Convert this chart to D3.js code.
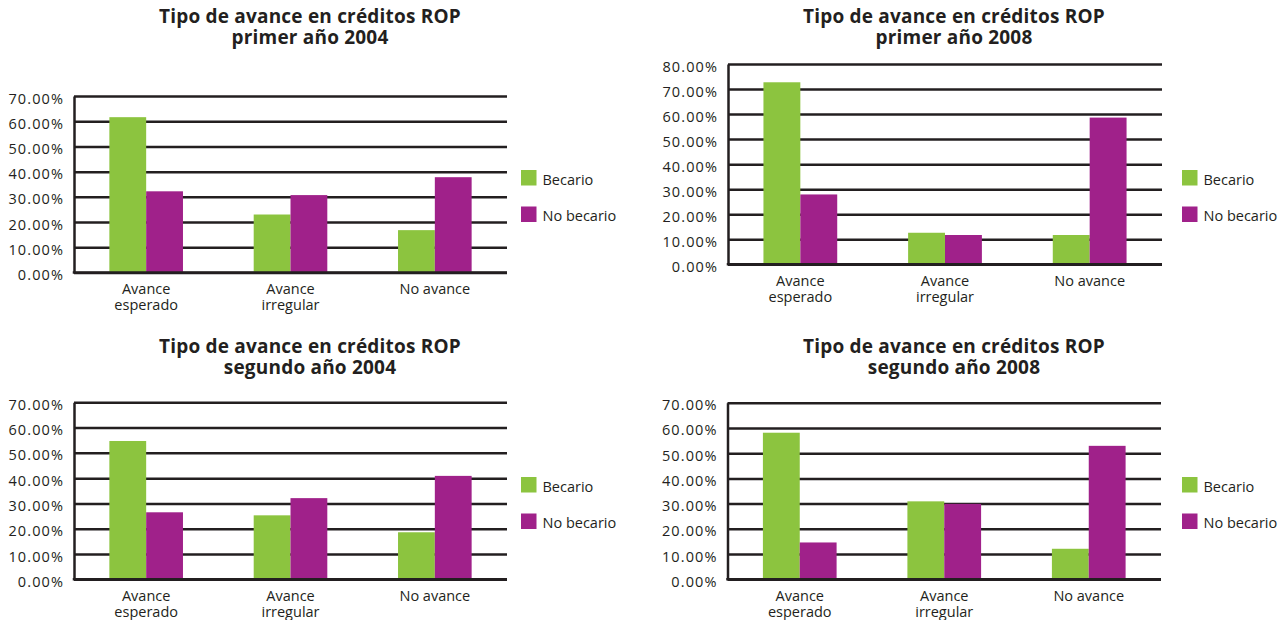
<!DOCTYPE html>
<html>
<head>
<meta charset="utf-8">
<script src="https://cdn.jsdelivr.net/npm/d3@7"></script>
<style>
  html, body { margin: 0; padding: 0; background: #ffffff; }
  svg { display: block; }
  text { font-family: "Open Sans", "DejaVu Sans", sans-serif; fill: #231f20; }
</style>
</head>
<body>
<svg id="chart" width="1287" height="620"></svg>
<script>
// ---- Data ----
const categories = ["Avance esperado", "Avance irregular", "No avance"];
const categoryLines = [["Avance", "esperado"], ["Avance", "irregular"], ["No avance"]];
const seriesNames = ["Becario", "No becario"];

const titles = [
  ["Tipo de avance en créditos ROP", "primer año 2004"],
  ["Tipo de avance en créditos ROP", "primer año 2008"],
  ["Tipo de avance en créditos ROP", "segundo año 2004"],
  ["Tipo de avance en créditos ROP", "segundo año 2008"]
];

const becario2004a = [61.6, 23.0, 16.8];
const noBecario2004a = [32.2, 30.7, 37.8];
const becario2008a = [72.7, 12.6, 11.7];
const noBecario2008a = [27.9, 11.7, 58.6];
const becario2004b = [54.7, 25.3, 18.6];
const noBecario2004b = [26.5, 32.1, 40.9];
const becario2008b = [58.1, 30.9, 12.1];
const noBecario2008b = [14.6, 29.9, 52.9];

const ticks70 = [0, 10, 20, 30, 40, 50, 60, 70];
const ticks80 = [0, 10, 20, 30, 40, 50, 60, 70, 80];

const colors = ["#8cc43f", "#a0218a"];
const ink = "#231f20";

// ---- Layout ----
const panels = [
  { vals: [becario2004a, noBecario2004a], ticks: ticks70, title: titles[0],
    x0: 74, x1: 507, yTop: 96, yBot: 272.5, titleX: 310, titleY: 23, legX: 521, legY: 170 },
  { vals: [becario2008a, noBecario2008a], ticks: ticks80, title: titles[1],
    x0: 728, x1: 1162, yTop: 64, yBot: 264.3, titleX: 954, titleY: 23, legX: 1182, legY: 170 },
  { vals: [becario2004b, noBecario2004b], ticks: ticks70, title: titles[2],
    x0: 74, x1: 507, yTop: 402.3, yBot: 579.3, titleX: 310, titleY: 353, legX: 521, legY: 477 },
  { vals: [becario2008b, noBecario2008b], ticks: ticks70, title: titles[3],
    x0: 727.5, x1: 1161, yTop: 402.7, yBot: 579.3, titleX: 954, titleY: 353, legX: 1182, legY: 477 }
];

const svg = d3.select("#chart");

panels.forEach(p => {
  const g = svg.append("g");
  const maxV = p.ticks[p.ticks.length - 1];
  const y = d3.scaleLinear().domain([0, maxV]).range([p.yBot, p.yTop]);
  const x = d3.scaleBand().domain(categories).range([p.x0, p.x1])
    .paddingInner(0.49).paddingOuter(0.245);
  const xs = d3.scaleBand().domain(seriesNames).range([0, x.bandwidth()]);
  const width = p.x1 - p.x0;

  // Title (one text, two lines)
  const title = g.append("text")
    .attr("text-anchor", "middle")
    .attr("font-size", 19)
    .attr("font-weight", 700)
    .attr("letter-spacing", 0.2);
  p.title.forEach((line, i) => {
    title.append("tspan")
      .attr("x", p.titleX)
      .attr("y", p.titleY + i * 20.5)
      .text(line);
  });

  // Grid lines (behind bars)
  const grid = g.append("g")
    .attr("transform", `translate(${p.x0},0)`)
    .call(d3.axisLeft(y).tickValues(p.ticks).tickSize(-width).tickFormat(""));
  grid.select(".domain").remove();
  grid.selectAll("line").attr("stroke", ink).attr("stroke-width", 2.5);

  // Bars
  seriesNames.forEach((s, si) => {
    g.append("g").selectAll("rect")
      .data(categories.map((c, ci) => ({ c, v: p.vals[si][ci] })))
      .join("rect")
      .attr("x", d => x(d.c) + xs(s))
      .attr("width", xs.bandwidth())
      .attr("y", d => y(d.v))
      .attr("height", d => y(0) - y(d.v))
      .attr("fill", colors[si]);
  });

  // Y axis
  const yAxis = g.append("g")
    .attr("transform", `translate(${p.x0},0)`)
    .call(d3.axisLeft(y).tickValues(p.ticks).tickSize(0).tickFormat(d => d.toFixed(2) + "%"));
  yAxis.select(".domain").attr("stroke", ink).attr("stroke-width", 2.5);
  yAxis.selectAll("text")
    .attr("font-size", 14.5)
    .attr("font-family", null)
    .attr("letter-spacing", 1.1)
    .attr("fill", ink)
    .attr("dy", null)
    .attr("x", -10)
    .attr("y", 7);

  // X axis
  const xAxis = g.append("g")
    .attr("transform", `translate(0,${p.yBot})`)
    .call(d3.axisBottom(x).tickSize(0).tickFormat(""));
  xAxis.select(".domain").attr("stroke", ink).attr("stroke-width", 2.5)
    .attr("d", `M${p.x0 - 1.25},0H${p.x1}`);
  xAxis.selectAll(".tick").each(function (d, i) {
    const t = d3.select(this).append("text")
      .attr("text-anchor", "middle")
      .attr("font-size", 14.5)
      .attr("fill", ink)
      .attr("transform", "translate(0,21.5)");
    categoryLines[i].forEach((ln, li) => {
      t.append("tspan").attr("x", 0).attr("y", li * 16).text(ln);
    });
  });

  // Legend
  const leg = g.append("g")
    .attr("transform", `translate(${p.legX},${p.legY})`);
  seriesNames.forEach((s, si) => {
    leg.append("rect")
      .attr("x", 0).attr("y", si * 36.5)
      .attr("width", 15.5).attr("height", 15.5)
      .attr("fill", colors[si]);
    leg.append("text")
      .attr("x", 21.5).attr("y", si * 36.5 + 14.5)
      .attr("font-size", 14.5)
      .text(s);
  });
});
</script>
</body>
</html>
